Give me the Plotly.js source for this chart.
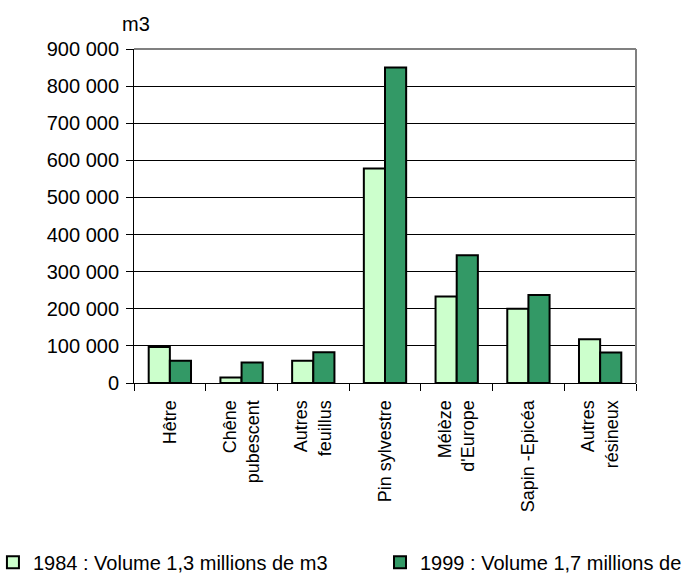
<!DOCTYPE html>
<html>
<head>
<meta charset="utf-8">
<script src="https://cdn.plot.ly/plotly-3.0.1.min.js"></script>
<style>html,body{margin:0;padding:0;background:#fff;}#chart{width:684px;height:574px;}</style>
</head>
<body>
<div id="chart"></div>
<script>
var categories = ["Hêtre", "Chêne<br>pubescent", "Autres<br>feuillus", "Pin sylvestre", "Mélèze<br>d'Europe", "Sapin -Epicéa", "Autres<br>résineux"];
var vol1984 = [97000, 15000, 60000, 578000, 233000, 200000, 118000];
var vol1999 = [60000, 55000, 83000, 850000, 344000, 237000, 82000];
var seriesNames = ["1984 : Volume 1,3 millions de m3", "1999 : Volume 1,7 millions de m3"];
var yTickVals = [0, 100000, 200000, 300000, 400000, 500000, 600000, 700000, 800000, 900000];
var yTickText = ["0", "100 000", "200 000", "300 000", "400 000", "500 000", "600 000", "700 000", "800 000", "900 000"];
var unitLabel = "m3";

var FONT = "Liberation Sans, Arial, sans-serif";
var traces = [
  {type: "bar", name: seriesNames[0], x: categories, y: vol1984, legend: "legend",
   marker: {color: "#CCFFCC", line: {color: "#000000", width: 2}}},
  {type: "bar", name: seriesNames[1], x: categories, y: vol1999, legend: "legend2",
   marker: {color: "#339966", line: {color: "#000000", width: 2}}}
];
var legendFont = {family: FONT, size: 20, color: "#000"};
var layout = {
  width: 684, height: 574,
  margin: {l: 134, r: 48, t: 49, b: 191, autoexpand: false},
  paper_bgcolor: "#ffffff", plot_bgcolor: "#ffffff",
  font: {family: FONT, size: 19, color: "#000000"},
  barmode: "group", bargap: 0.41, bargroupgap: 0,
  showlegend: true,
  legend: {orientation: "h", x: -0.281, xanchor: "left", y: -0.4785, yanchor: "top",
           font: legendFont, bgcolor: "rgba(0,0,0,0)"},
  legend2: {orientation: "h", x: 0.49, xanchor: "left", y: -0.4785, yanchor: "top",
           font: legendFont, bgcolor: "rgba(0,0,0,0)"},
  xaxis: {type: "category", showline: true, linecolor: "#000", linewidth: 1, automargin: false,
          ticks: "outside", tickson: "boundaries", ticklen: 7, tickcolor: "#000",
          tickangle: -90, showgrid: false, tickfont: {family: FONT, size: 18}, ticklabelstandoff: 9, fixedrange: true},
  yaxis: {range: [0, 900000], tickvals: yTickVals, ticktext: yTickText, automargin: false,
          showline: true, linecolor: "#000", linewidth: 1, ticks: "outside", ticklen: 7, tickcolor: "#000",
          showgrid: true, gridcolor: "#000", gridwidth: 1, zeroline: false,
          tickfont: {family: FONT, size: 20}, ticklabelstandoff: 3, fixedrange: true},
  shapes: [
    {type: "line", xref: "paper", yref: "paper", x0: 0, x1: 1, y0: 1, y1: 1, line: {color: "#808080", width: 2}, layer: "above"},
    {type: "line", xref: "paper", yref: "paper", x0: 1, x1: 1, y0: 0, y1: 1, line: {color: "#808080", width: 2}, layer: "above"}
  ],
  annotations: [
    {text: unitLabel, xref: "paper", yref: "paper", x: 0.004, y: 1.076, xanchor: "center", yanchor: "middle",
     showarrow: false, font: {family: FONT, size: 20, color: "#000"}}
  ]
};
Plotly.newPlot("chart", traces, layout, {displayModeBar: false, staticPlot: true});
</script>
</body>
</html>
